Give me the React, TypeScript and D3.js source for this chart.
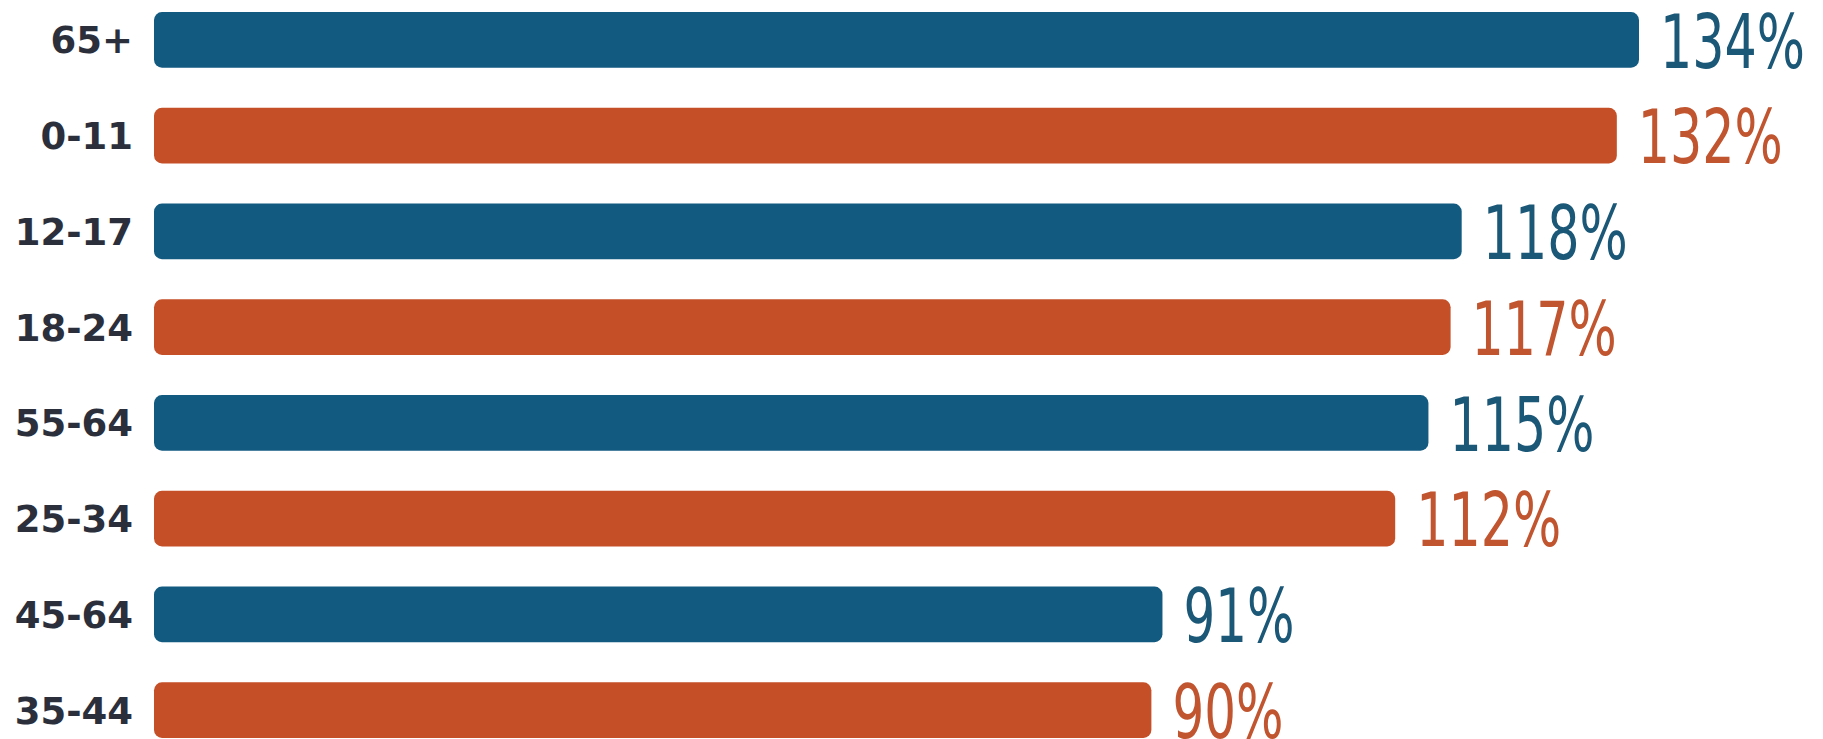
import React from "react";
import * as d3 from "d3";

const categories = ["65+", "0-11", "12-17", "18-24", "55-64", "25-34", "45-64", "35-44"];
const values = [134, 132, 118, 117, 115, 112, 91, 90];
const colorKeys = ["blue", "orange", "blue", "orange", "blue", "orange", "blue", "orange"];

const W = 1823;
const H = 739;

const barFill: Record<string, string> = { blue: "#125a80", orange: "#c54f27" };
const textFill: Record<string, string> = { blue: "#1b5777", orange: "#c1552f" };

export default function App() {
  const x = d3.scaleLinear().domain([0, 134]).range([154, 1639]);
  const y = d3
    .scaleBand<string>()
    .domain(categories)
    .range([-8, 758])
    .paddingInner(0.42)
    .paddingOuter(0.21);

  const bh = y.bandwidth();

  return (
    <svg
      width={W}
      height={H}
      style={{ position: "absolute", left: 0, top: 0, background: "#ffffff" }}
    >
      <rect x={0} y={0} width={W} height={H} fill="#ffffff" />
      {categories.map((c, i) => {
        const y0 = y(c) as number;
        const v = values[i];
        const k = colorKeys[i];
        const label = v + "%";
        const tl = (label.length - 1) * 34 + 43;
        return (
          <g key={c}>
            <rect
              x={x(0)}
              y={y0}
              width={x(v) - x(0)}
              height={bh}
              rx={8}
              ry={8}
              fill={barFill[k]}
            />
            <text
              x={133}
              y={y0 + bh / 2 + 13.5}
              textAnchor="end"
              fontFamily="DejaVu Sans"
              fontWeight="bold"
              fontSize={37}
              fill="#2b2f3c"
            >
              {c}
            </text>
            <text
              x={x(v) + 21}
              y={y0 + bh}
              fontFamily="'DejaVu Sans Condensed', 'DejaVu Sans', sans-serif"
              fontSize={74}
              textLength={tl}
              lengthAdjust="spacingAndGlyphs"
              fill={textFill[k]}
            >
              {label}
            </text>
          </g>
        );
      })}
    </svg>
  );
}
